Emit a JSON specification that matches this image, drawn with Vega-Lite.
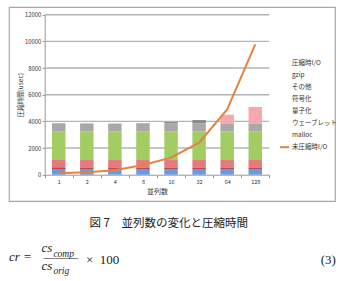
{
  "$schema": "https://vega.github.io/schema/vega-lite/v6.json",
  "padding": {"left": 8, "top": 6, "right": 0, "bottom": 0},
  "background": "white",
  "config": {
    "font": "Noto Sans CJK JP",
    "view": {"stroke": "#a8a8a8", "strokeWidth": 1.2},
    "axis": {"labelOverlap": false, "labelBound": false, "grid": false, "titleFontWeight": "normal", "titleColor": "#333", "labelColor": "#333", "tickColor": "#999", "domainColor": "#999"},
    "axisY": {
      "titleFontSize": 6.5, "titlePadding": 1,
      "labelFontSize": 5.8, "labelPadding": 1.5, "tickSize": 2.5,
      "labelOverlap": false, "labelFlush": false,
      "offset": -35.7
    },
    "axisX": {
      "titleFontSize": 7, "titlePadding": 2,
      "labelFontSize": 5.5, "labelPadding": 2, "labelAngle": 0,
      "tickSize": 3, "tickBand": "extent", "offset": -26.3
    }
  },
  "datasets": {
    "gridlines": [{"v": 2000}, {"v": 4000}, {"v": 6000}, {"v": 8000}, {"v": 10000}, {"v": 12000}],
    "parts": [
      {"n": "1", "s": "malloc", "o": 1, "t": 430},
      {"n": "1", "s": "ウェーブレット", "o": 2, "t": 120},
      {"n": "1", "s": "量子化", "o": 3, "t": 550},
      {"n": "1", "s": "符号化", "o": 4, "t": 2150},
      {"n": "1", "s": "その他", "o": 5, "t": 600},
      {"n": "2", "s": "malloc", "o": 1, "t": 430},
      {"n": "2", "s": "ウェーブレット", "o": 2, "t": 120},
      {"n": "2", "s": "量子化", "o": 3, "t": 550},
      {"n": "2", "s": "符号化", "o": 4, "t": 2150},
      {"n": "2", "s": "その他", "o": 5, "t": 600},
      {"n": "4", "s": "malloc", "o": 1, "t": 430},
      {"n": "4", "s": "ウェーブレット", "o": 2, "t": 120},
      {"n": "4", "s": "量子化", "o": 3, "t": 550},
      {"n": "4", "s": "符号化", "o": 4, "t": 2150},
      {"n": "4", "s": "その他", "o": 5, "t": 590},
      {"n": "8", "s": "malloc", "o": 1, "t": 430},
      {"n": "8", "s": "ウェーブレット", "o": 2, "t": 120},
      {"n": "8", "s": "量子化", "o": 3, "t": 550},
      {"n": "8", "s": "符号化", "o": 4, "t": 2150},
      {"n": "8", "s": "その他", "o": 5, "t": 610},
      {"n": "16", "s": "malloc", "o": 1, "t": 430},
      {"n": "16", "s": "ウェーブレット", "o": 2, "t": 120},
      {"n": "16", "s": "量子化", "o": 3, "t": 550},
      {"n": "16", "s": "符号化", "o": 4, "t": 2150},
      {"n": "16", "s": "その他", "o": 5, "t": 600},
      {"n": "16", "s": "gzip", "o": 6, "t": 100},
      {"n": "32", "s": "malloc", "o": 1, "t": 430},
      {"n": "32", "s": "ウェーブレット", "o": 2, "t": 120},
      {"n": "32", "s": "量子化", "o": 3, "t": 550},
      {"n": "32", "s": "符号化", "o": 4, "t": 2150},
      {"n": "32", "s": "その他", "o": 5, "t": 600},
      {"n": "32", "s": "gzip", "o": 6, "t": 250},
      {"n": "64", "s": "malloc", "o": 1, "t": 430},
      {"n": "64", "s": "ウェーブレット", "o": 2, "t": 120},
      {"n": "64", "s": "量子化", "o": 3, "t": 550},
      {"n": "64", "s": "符号化", "o": 4, "t": 2150},
      {"n": "64", "s": "その他", "o": 5, "t": 600},
      {"n": "64", "s": "圧縮時I/O", "o": 7, "t": 650},
      {"n": "128", "s": "malloc", "o": 1, "t": 430},
      {"n": "128", "s": "ウェーブレット", "o": 2, "t": 120},
      {"n": "128", "s": "量子化", "o": 3, "t": 550},
      {"n": "128", "s": "符号化", "o": 4, "t": 2150},
      {"n": "128", "s": "その他", "o": 5, "t": 600},
      {"n": "128", "s": "圧縮時I/O", "o": 7, "t": 1230}
    ],
    "uncompressed": [
      {"n": "1", "s": "未圧縮時I/O", "t": 100},
      {"n": "2", "s": "未圧縮時I/O", "t": 180},
      {"n": "4", "s": "未圧縮時I/O", "t": 330},
      {"n": "8", "s": "未圧縮時I/O", "t": 730},
      {"n": "16", "s": "未圧縮時I/O", "t": 1280},
      {"n": "32", "s": "未圧縮時I/O", "t": 2400},
      {"n": "64", "s": "未圧縮時I/O", "t": 4900},
      {"n": "128", "s": "未圧縮時I/O", "t": 9780}
    ]
  },
  "title": {
    "text": ["comp", "orig"],
    "subtitle": "\u200b\u2003\u2003\u2002×\u2002100\u2003\u2003\u2003\u2003\u2003\u2003\u2003\u2003\u2003\u2003\u2003\u2003\u2003\u2003\u2003\u2002(3)",
    "orient": "bottom",
    "anchor": "start",
    "dx": 45,
    "offset": -25,
    "font": "Liberation Serif",
    "fontStyle": "italic",
    "fontWeight": "normal",
    "fontSize": 9.5,
    "lineHeight": 17,
    "color": "#222",
    "subtitleFont": "Liberation Serif",
    "subtitleFontSize": 13,
    "subtitleColor": "#222",
    "subtitlePadding": -21
  },
  "vconcat": [
    {
      "width": 326,
      "height": 194,
      "title": {
        "text": "\u200b\u3000\u3000\u3000\u3000\u3000\u3000\u3000図 7\u3000並列数の変化と圧縮時間",
        "subtitle": ["\u200b\u2003\u2003\u2002cs", "cr =\u2002\u2009\u2009———", "\u200b\u2003\u2003\u2002cs"],
        "orient": "bottom",
        "anchor": "start",
        "offset": 17,
        "font": "Noto Sans CJK JP",
        "fontSize": 11.5,
        "fontWeight": "normal",
        "color": "#222",
        "subtitleFont": "Liberation Serif",
        "subtitleFontStyle": "italic",
        "subtitleFontSize": 13,
        "subtitleLineHeight": 9,
        "subtitlePadding": 12.5,
        "subtitleColor": "#222"
      },
      "resolve": {"scale": {"x": "independent"}},
      "layer": [
        {
          "data": {"name": "gridlines"},
          "mark": {"type": "rule", "color": "#b4b4b4", "strokeWidth": 1.4},
          "encoding": {
            "x": {"datum": 0, "type": "quantitative", "scale": {"domain": [0, 1], "range": [35.7, 260.3]}, "axis": null},
            "x2": {"datum": 1},
            "y": {
              "field": "v", "type": "quantitative", "title": "圧縮時間[usec]",
              "scale": {"domain": [0, 12000], "range": [167.7, 7.7], "nice": false},
              "axis": {"values": [0, 2000, 4000, 6000, 8000, 10000, 12000], "format": "d", "labelOverlap": false, "labelFlush": false}
            }
          }
        },
        {
          "layer": [
            {
              "data": {"name": "parts"},
              "mark": {"type": "bar", "width": {"band": 0.48}},
              "encoding": {
                "x": {
                  "field": "n", "type": "ordinal", "title": "並列数",
                  "scale": {"type": "band", "domain": ["1", "2", "4", "8", "16", "32", "64", "128"], "range": [35.7, 260.3], "paddingInner": 0, "paddingOuter": 0}
                },
                "y": {
                  "field": "t", "type": "quantitative", "stack": "zero", "title": "圧縮時間[usec]",
                  "axis": {"values": [0, 2000, 4000, 6000, 8000, 10000, 12000], "format": "d", "labelOverlap": false, "labelFlush": false}
                },
                "color": {
                  "field": "s", "type": "nominal",
                  "scale": {
                    "domain": ["malloc", "ウェーブレット", "量子化", "符号化", "その他", "gzip", "圧縮時I/O"],
                    "range": ["#6a9be0", "#b8464a", "#e57a7c", "#a3cc62", "#a8a8a8", "#8a8a8a", "#f5a8b0"]
                  },
                  "legend": null
                },
                "order": {"field": "o", "type": "quantitative"}
              }
            },
            {
              "data": {"name": "uncompressed"},
              "mark": {"type": "line", "strokeWidth": 2},
              "encoding": {
                "x": {"field": "n", "type": "ordinal", "title": "並列数"},
                "y": {
                  "field": "t", "type": "quantitative", "title": "圧縮時間[usec]",
                  "axis": {"values": [0, 2000, 4000, 6000, 8000, 10000, 12000], "format": "d", "labelOverlap": false, "labelFlush": false}
                },
                "stroke": {
                  "field": "s", "type": "nominal",
                  "scale": {
                    "domain": ["圧縮時I/O", "gzip", "その他", "符号化", "量子化", "ウェーブレット", "malloc", "未圧縮時I/O"],
                    "range": ["transparent", "transparent", "transparent", "transparent", "transparent", "transparent", "transparent", "#e2843f"]
                  },
                  "legend": {
                    "orient": "none", "legendX": 270, "legendY": 50, "title": null,
                    "symbolType": "stroke", "symbolSize": 81, "symbolStrokeWidth": 2,
                    "labelFontSize": 6.5, "labelColor": "#333", "labelFont": "Noto Sans CJK JP",
                    "rowPadding": 2.1, "labelOffset": 2, "padding": 0
                  }
                }
              }
            }
          ]
        }
      ]
    }
  ]
}
